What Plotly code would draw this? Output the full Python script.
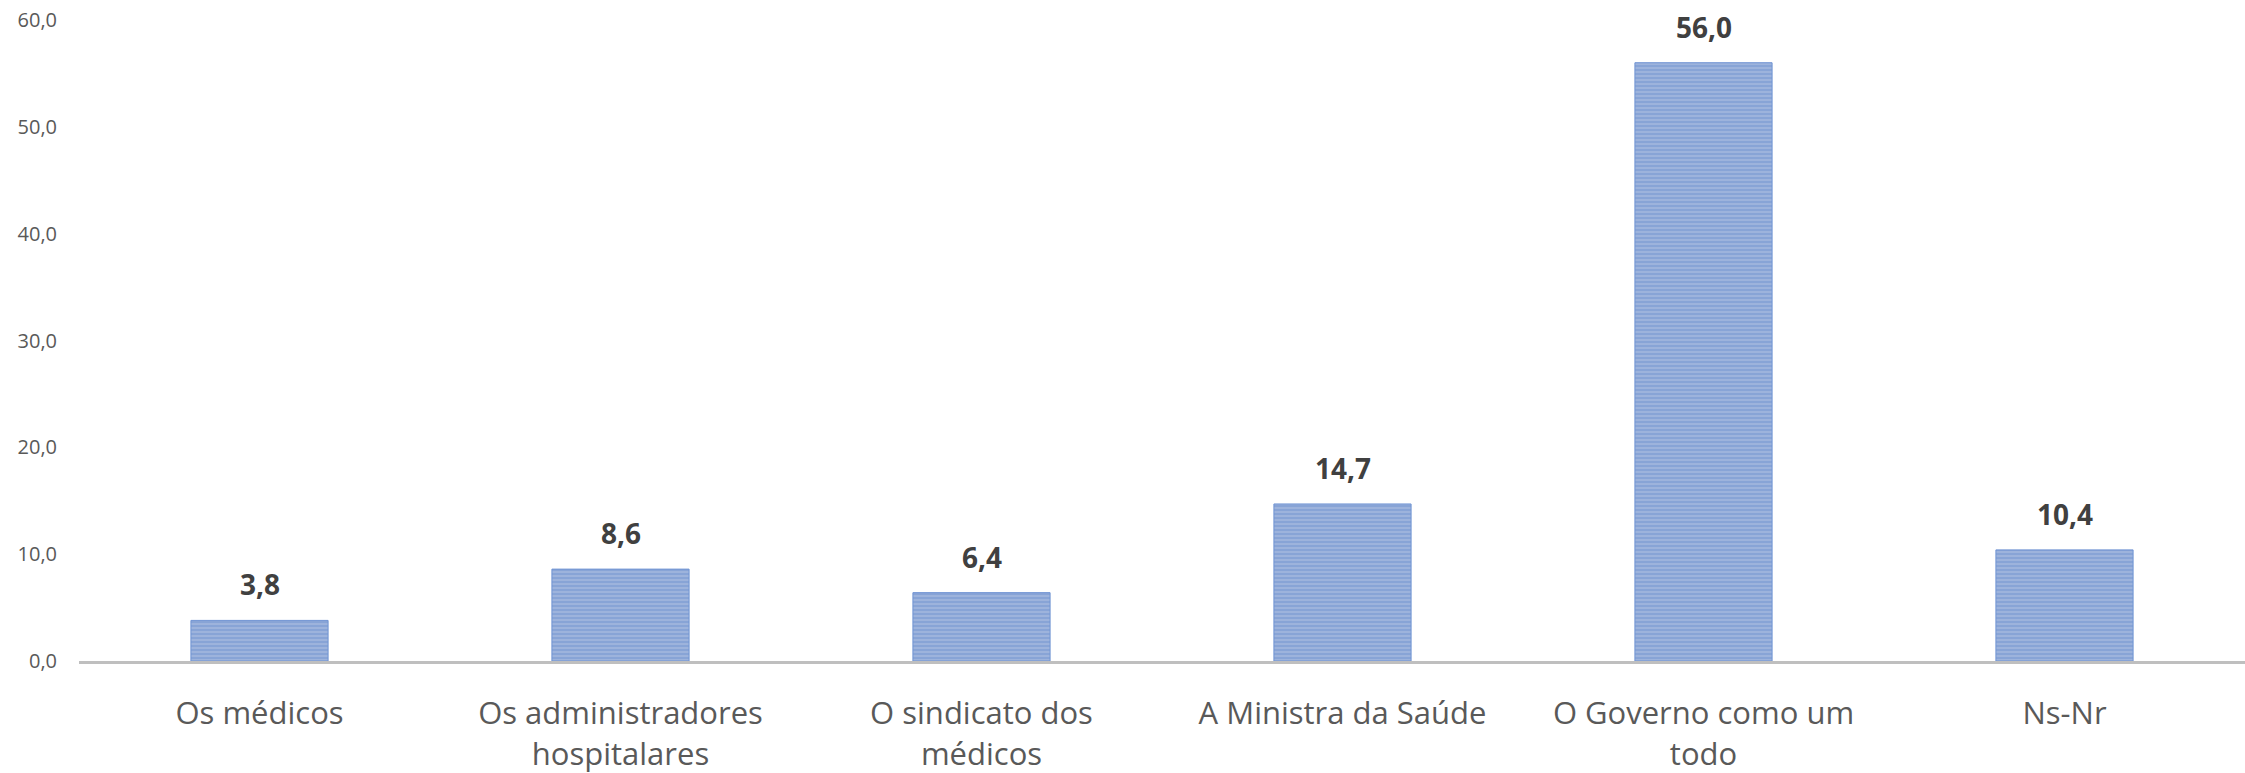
import plotly.graph_objects as go

categories = ["Os médicos", "Os administradores<br>hospitalares", "O sindicato dos<br>médicos",
              "A Ministra da Saúde", "O Governo como um<br>todo", "Ns-Nr"]
values = [3.8, 8.6, 6.4, 14.7, 56.0, 10.4]
y_ticks = [0, 10, 20, 30, 40, 50, 60]

fig = go.Figure()
fig.add_trace(go.Bar(
    x=categories, y=values,
    marker=dict(
        color="#CDD6E8",
        pattern=dict(shape="-", fgcolor="#4472C4", size=4, solidity=0.85, fillmode="overlay"),
        line=dict(color="#6F93D3", width=1),
    ),
    width=0.38,
    hoverinfo="skip",
))

for c, v in zip(categories, values):
    fig.add_annotation(
        x=c, y=v, text=f"<b>{v:.1f}</b>".replace(".", ","),
        showarrow=False, yanchor="bottom", yshift=15,
        font=dict(family="Open Sans", size=28, color="#404040"),
    )

fig.update_layout(
    width=2245, height=773,
    margin=dict(l=79, r=0, t=20, b=112),
    paper_bgcolor="white", plot_bgcolor="white",
    separators=",.",
    showlegend=False,
    font=dict(family="Open Sans", color="#595959"),
)
fig.update_xaxes(
    showline=True, linecolor="#BFBFBF", linewidth=3,
    showgrid=False, ticks="", ticklabelstandoff=23, automargin=False,
    tickfont=dict(family="Open Sans", size=31, color="#595959"),
    fixedrange=True,
)
fig.update_yaxes(
    range=[0, 60], tickvals=y_ticks, tickformat=".1f",
    showgrid=False, zeroline=False, showline=False, ticks="",
    ticklabelstandoff=21, automargin=False, ticklabeloverflow="allow",
    tickfont=dict(family="Open Sans", size=20, color="#595959"),
    fixedrange=True,
)

fig.write_html(
    "out.html",
    config={"displayModeBar": False, "staticPlot": True},
    post_script="document.body.style.margin='0';document.body.style.overflow='hidden';",
)
